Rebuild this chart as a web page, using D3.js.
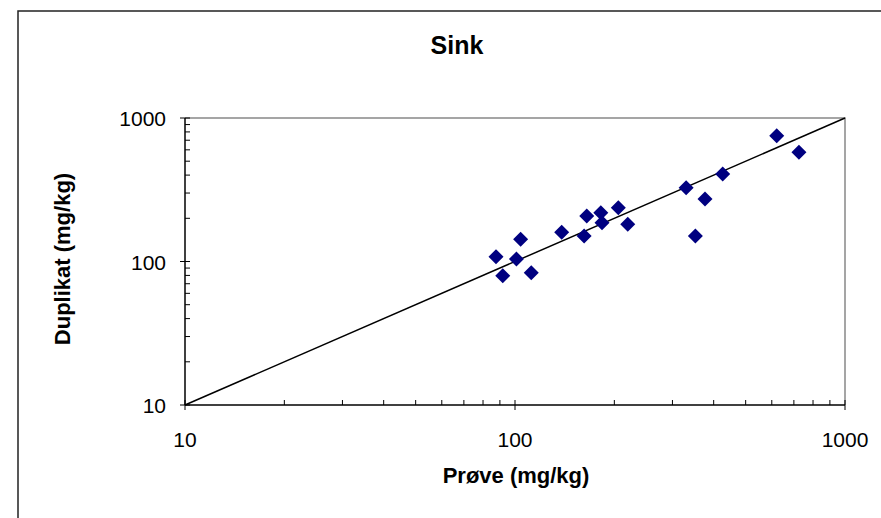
<!DOCTYPE html>
<html>
<head>
<meta charset="utf-8">
<script src="https://cdn.jsdelivr.net/npm/d3@7"></script>
<style>
  body { margin: 0; background: #fff; }
  svg { display: block; font-family: "Liberation Sans", Arial, sans-serif; }
</style>
</head>
<body>
<svg id="chart" width="881" height="518"></svg>
<script>
// measured values (mg/kg)
var prove    = [87.6, 91.8, 101, 104, 112, 138.5, 162, 165, 182, 183.5, 205.6, 219.6, 330, 352, 376.5, 426, 621, 725];
var duplikat = [108, 79.6, 104, 142.8, 83.5, 159.8, 150.5, 207.5, 218.8, 186.4, 237, 181.6, 327, 150.5, 272.7, 407, 753, 577];
var tickLabels = [10, 100, 1000];
var lineEnds = [10, 1000];

var svg = d3.select("#chart")
var pLeft = 185, pRight = 845, pTop = 118, pBottom = 405

// chart frame
svg.append("path")
    .attr("d", "M18,518 L18,11 L881,11")
    .attr("fill", "none")
    .attr("stroke", "#222")
    .attr("stroke-width", 1.5)

var x = d3.scaleLog().domain([10, 1000]).range([pLeft, pRight])
var y = d3.scaleLog().domain([10, 1000]).range([pBottom, pTop])

// plot border (top / right grey)
svg.append("path")
    .attr("d", "M" + pLeft + "," + pTop + " L" + pRight + "," + pTop + " L" + pRight + "," + pBottom)
    .attr("fill", "none")
    .attr("stroke", "#888")
    .attr("stroke-width", 1.5)

// minor ticks
var minor = []
for (var d = 10; d < 1000; d *= 10) for (var k = 2; k <= 9; k++) minor.push(d * k)

var g = svg.append("g").attr("stroke", "#000").attr("stroke-width", 1)

g.selectAll(".mx").data(minor).enter().append("line")
    .attr("x1", d => x(d)).attr("x2", d => x(d))
    .attr("y1", pBottom).attr("y2", pBottom - 5)
g.selectAll(".my").data(minor).enter().append("line")
    .attr("y1", d => y(d)).attr("y2", d => y(d))
    .attr("x1", pLeft).attr("x2", pLeft + 5)
g.selectAll(".Mx").data(tickLabels).enter().append("line")
    .attr("x1", d => x(d)).attr("x2", d => x(d))
    .attr("y1", pBottom - 5).attr("y2", pBottom + 5)
g.selectAll(".My").data(tickLabels).enter().append("line")
    .attr("y1", d => y(d)).attr("y2", d => y(d))
    .attr("x1", pLeft - 5).attr("x2", pLeft + 5)

// axes lines
svg.append("line").attr("x1", pLeft).attr("x2", pRight).attr("y1", pBottom).attr("y2", pBottom)
    .attr("stroke", "#000").attr("stroke-width", 1.5)
svg.append("line").attr("x1", pLeft).attr("x2", pLeft).attr("y1", pTop).attr("y2", pBottom)
    .attr("stroke", "#000").attr("stroke-width", 1.5)

// tick labels
svg.selectAll(".xl").data(tickLabels).enter().append("text")
    .attr("x", d => x(d)).attr("y", 447)
    .attr("text-anchor", "middle")
    .attr("font-size", 21)
    .text(d => d)
svg.selectAll(".yl").data(tickLabels).enter().append("text")
    .attr("x", 166).attr("y", d => y(d) + 8)
    .attr("text-anchor", "end")
    .attr("font-size", 21)
    .text(d => d)

// 1:1 line
svg.append("line")
    .attr("x1", x(lineEnds[0])).attr("y1", y(lineEnds[0]))
    .attr("x2", x(lineEnds[1])).attr("y2", y(lineEnds[1]))
    .attr("stroke", "#000").attr("stroke-width", 1.5)

// points
var diamond = "M0,-7.5 L7.5,0 L0,7.5 L-7.5,0 Z"
svg.append("g").selectAll("path")
    .data(prove)
    .enter()
    .append("path")
    .attr("d", diamond)
    .attr("transform", (d, i) => "translate(" + x(d) + "," + y(duplikat[i]) + ")")
    .attr("fill", "#000080")

// titles
svg.append("text").attr("x", 457).attr("y", 54)
    .attr("text-anchor", "middle").attr("font-size", 25).attr("font-weight", "bold")
    .text("Sink")
svg.append("text").attr("x", 516).attr("y", 483)
    .attr("text-anchor", "middle").attr("font-size", 22).attr("font-weight", "bold")
    .text("Prøve (mg/kg)")
svg.append("text")
    .attr("transform", "translate(70,259) rotate(-90)")
    .attr("text-anchor", "middle").attr("font-size", 22).attr("font-weight", "bold")
    .text("Duplikat (mg/kg)")
</script>
</body>
</html>
